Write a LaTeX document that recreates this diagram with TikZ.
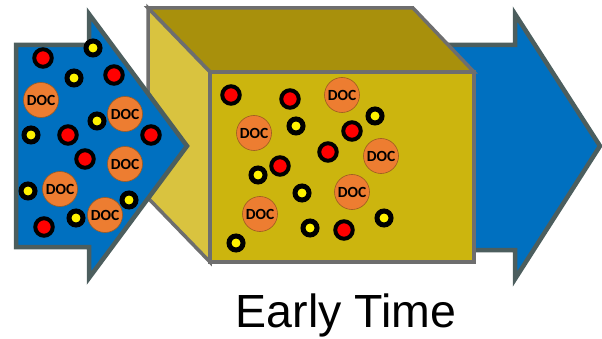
\documentclass[tikz,border=0pt]{standalone}
\usepackage{fontspec}
\setmainfont{Liberation Sans}
\newfontfamily\docfont{Carlito}
\begin{document}
\begin{tikzpicture}[x=1pt,y=-1pt,
  arrowshape/.style={fill=arrowblue,draw=arrowedge,line width=4.5pt,line join=miter},
  boxedge/.style={draw=boxgray,line width=3.5pt,line join=miter},
  redp/.style={circle,fill=red,draw=black,line width=4pt,minimum size=17.5pt,inner sep=0pt},
  yelp/.style={circle,fill=yellow,draw=black,line width=5pt,minimum size=14pt,inner sep=0pt},
  doc/.style={circle,fill=docorange,draw=docedge,line width=0.6pt,minimum size=35pt,inner sep=0pt,font=\docfont\fontsize{15.5}{15.5}\selectfont\bfseries},
  caption/.style={font=\fontsize{46.5}{50}\selectfont,anchor=base}]
\definecolor{arrowblue}{HTML}{0070C0}
\definecolor{arrowedge}{HTML}{4C5E5E}
\definecolor{boxgray}{HTML}{6E6E6E}
\definecolor{frontface}{HTML}{CCB50E}
\definecolor{topface}{HTML}{A8900C}
\definecolor{leftface}{HTML}{D9C33F}
\definecolor{docorange}{HTML}{ED7D31}
\definecolor{docedge}{HTML}{9C5A22}
\useasboundingbox (0,0) rectangle (602,339);
% right arrow (behind the box)
\draw[arrowshape] (430,45) -- (515,45) -- (515,14) -- (600,146) -- (515,279) -- (515,250) -- (430,250) -- cycle;
% box
\draw[boxedge,fill=topface] (148,8) -- (413,8) -- (474,72) -- (210,72) -- cycle;
\draw[boxedge,fill=leftface] (148,8) -- (210,72) -- (210,262) -- (148,198) -- cycle;
\draw[boxedge,fill=frontface] (210,72) -- (474,72) -- (474,262) -- (210,262) -- cycle;
% left arrow
\draw[arrowshape] (16,45) -- (89,45) -- (89,14) -- (187,146) -- (89,278) -- (89,247) -- (16,247) -- cycle;
% particles in left arrow
\node[redp] (lr1) at (43,58) {};
\node[redp] (lr2) at (114,75) {};
\node[redp] (lr3) at (68,135) {};
\node[redp] (lr4) at (151,135) {};
\node[redp] (lr5) at (85,159) {};
\node[redp] (lr6) at (44,227) {};
\node[yelp] (ly1) at (93,48) {};
\node[yelp] (ly2) at (74,78) {};
\node[yelp] (ly3) at (97,121) {};
\node[yelp] (ly4) at (31,135) {};
\node[yelp] (ly5) at (28,191) {};
\node[yelp] (ly6) at (76,218) {};
\node[yelp] (ly7) at (129,200) {};
\node[doc] (ld1) at (41,100) {DOC};
\node[doc] (ld2) at (125,114) {DOC};
\node[doc] (ld3) at (125,164) {DOC};
\node[doc] (ld4) at (60,189) {DOC};
\node[doc] (ld5) at (105,215) {DOC};
% particles in box
\node[redp] (br1) at (231,95) {};
\node[redp] (br2) at (290,99) {};
\node[redp] (br3) at (352,131) {};
\node[redp] (br4) at (328,152) {};
\node[redp] (br5) at (280,166) {};
\node[redp] (br6) at (344,230) {};
\node[yelp] (by1) at (296,126) {};
\node[yelp] (by2) at (375,116) {};
\node[yelp] (by3) at (258,175) {};
\node[yelp] (by4) at (302,193) {};
\node[yelp] (by5) at (310,228) {};
\node[yelp] (by6) at (384,218) {};
\node[yelp] (by7) at (236,243) {};
\node[doc] (bd1) at (342,95) {DOC};
\node[doc] (bd2) at (254,133) {DOC};
\node[doc] (bd3) at (381,156) {DOC};
\node[doc] (bd4) at (352,192) {DOC};
\node[doc] (bd5) at (260,214) {DOC};
% caption
\node[caption] (cap) at (346,327) {Early Time};
\end{tikzpicture}
\end{document}
